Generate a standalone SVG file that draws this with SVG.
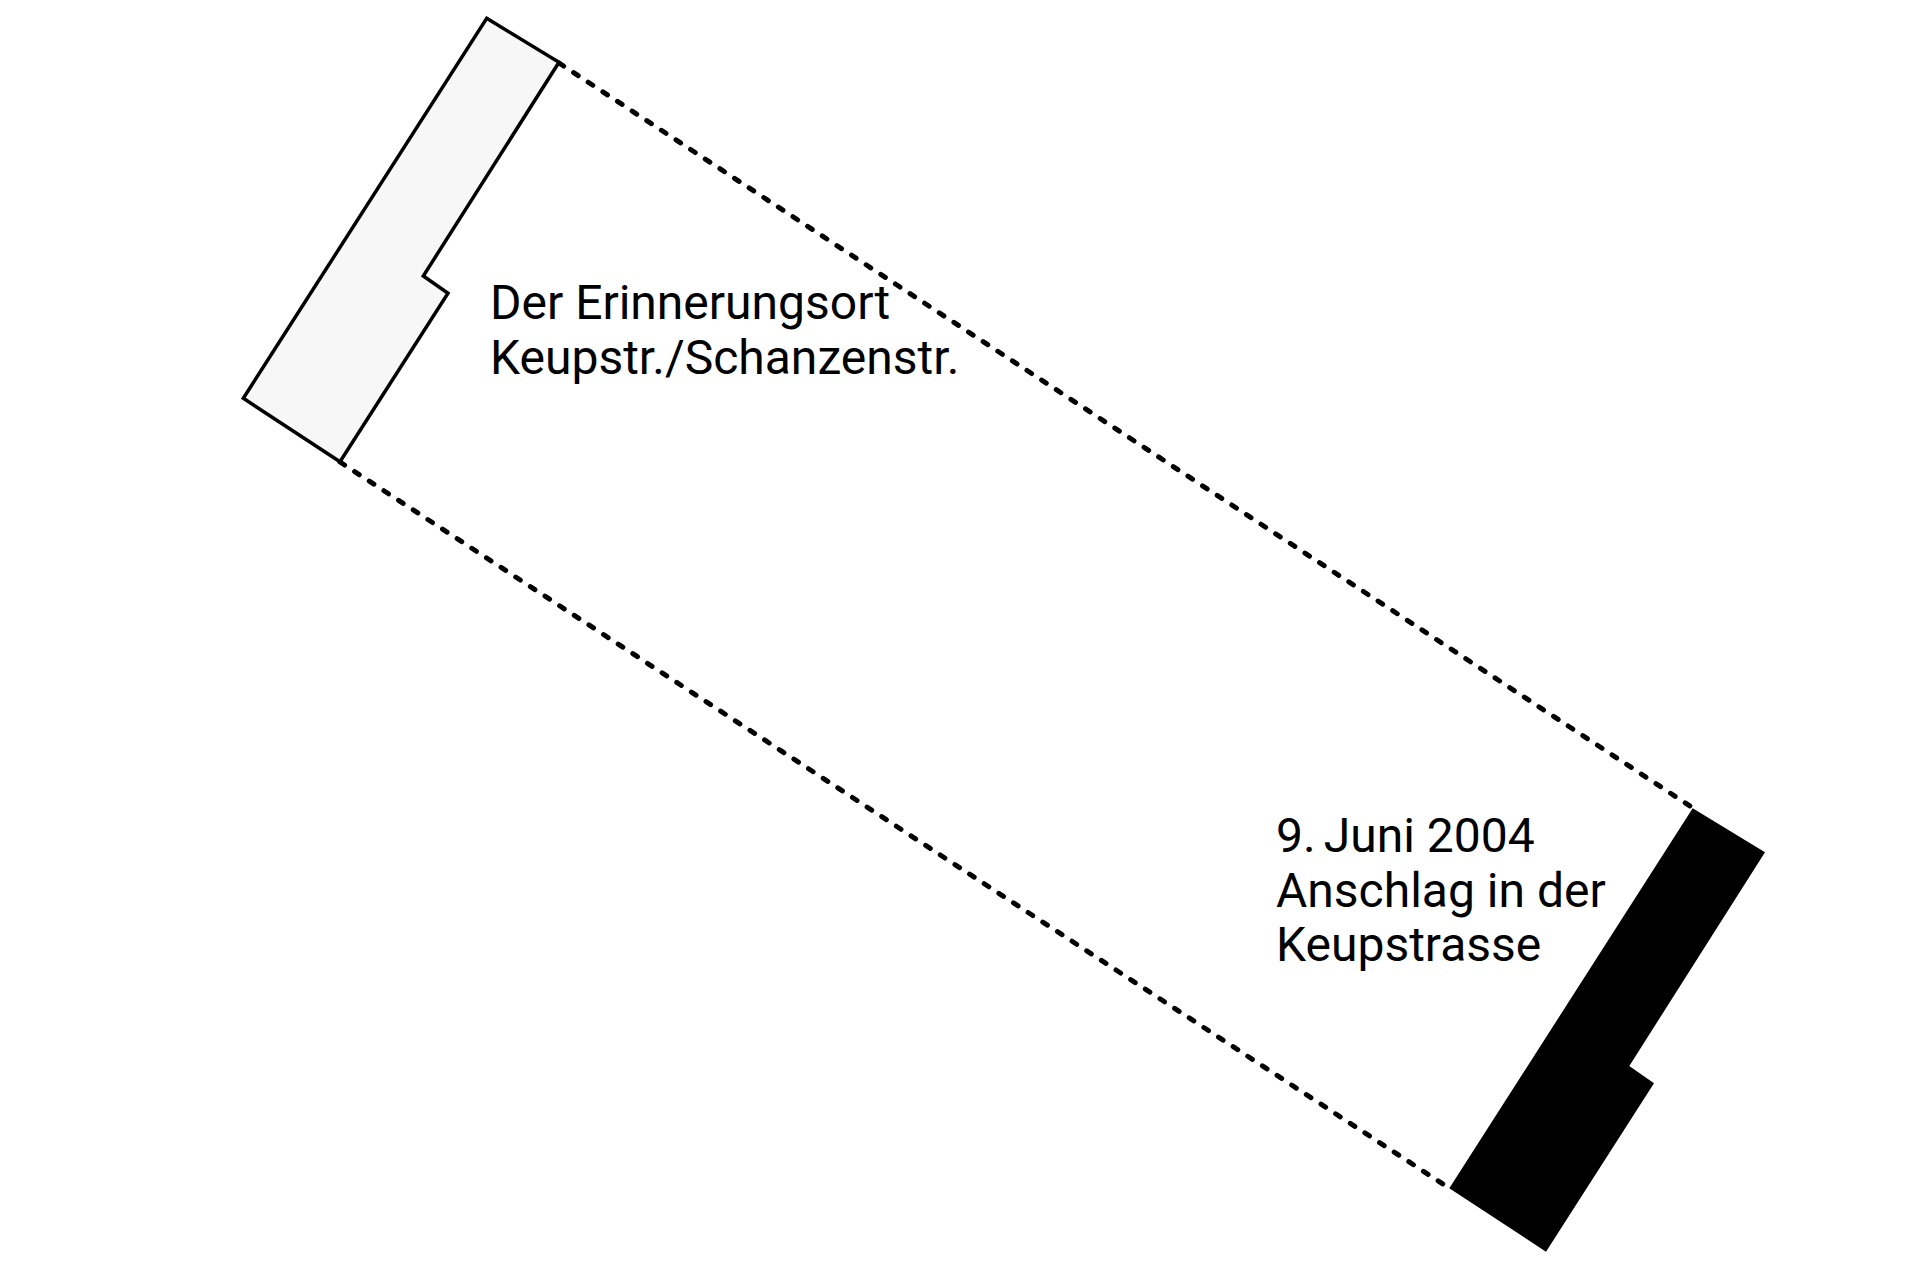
<svg xmlns="http://www.w3.org/2000/svg" width="1914" height="1276" viewBox="0 0 1914 1276">
  <style>
    .lbl { font-family: Roboto, "Liberation Sans", sans-serif; fill: #000; font-size: 48px; }
    .dash { fill: none; stroke: #000; stroke-width: 5; stroke-dasharray: 5.5 12; stroke-linecap: round; }
  </style>
  <rect x="0" y="0" width="1914" height="1276" fill="#fff"/>
  <g id="connectors">
    <line class="dash" x1="559" y1="63" x2="1693" y2="808"/>
    <line class="dash" x1="340" y1="462" x2="1449" y2="1188"/>
  </g>
  <g id="memorial">
    <polygon points="486.7,18.3 559,62.3 423.3,276 448,293.3 340,461.7 243.3,398.3" fill="#f7f7f7" stroke="#000" stroke-width="3.5" stroke-linejoin="miter"/>
    <text class="lbl" x="490" y="318.5">Der Erinnerungsort</text>
    <text class="lbl" x="490" y="373.5">Keupstr./Schanzenstr.</text>
  </g>
  <g id="attack">
    <polygon points="1692.7,808.3 1765,852.3 1629.3,1066 1654,1083.3 1546,1251.7 1449.3,1188.3" fill="#000"/>
    <text class="lbl" x="1276" y="852">9.&#8198;Juni 2004</text>
    <text class="lbl" x="1276" y="906.5">Anschlag in der</text>
    <text class="lbl" x="1276" y="960.5">Keupstrasse</text>
  </g>
</svg>
